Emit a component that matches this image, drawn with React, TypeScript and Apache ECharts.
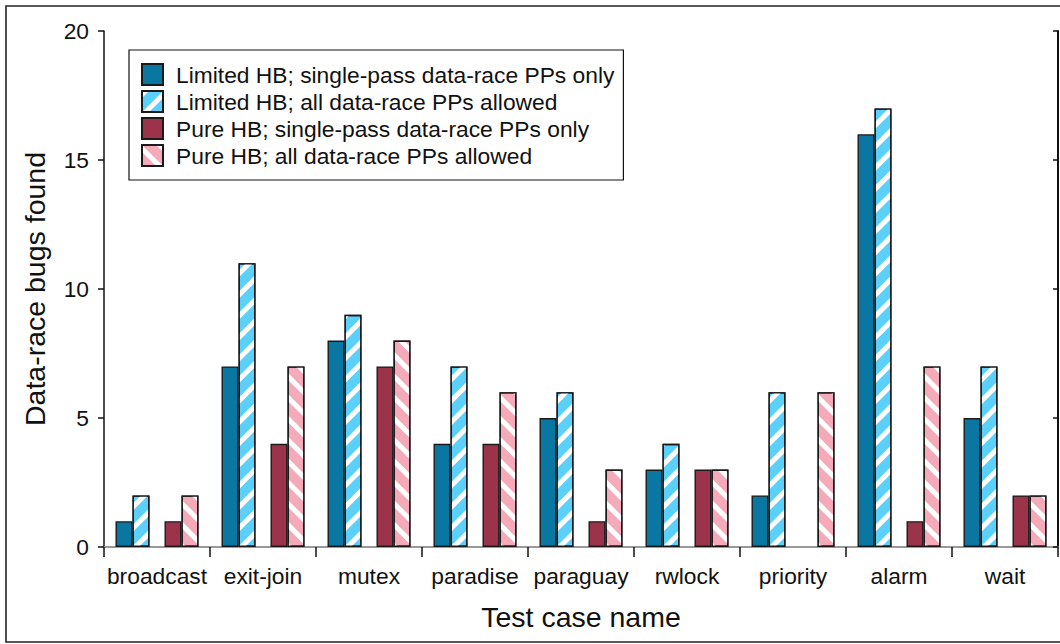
import React, { useEffect, useRef } from "react";
import * as echarts from "echarts";

const categories = ["broadcast", "exit-join", "mutex", "paradise", "paraguay", "rwlock", "priority", "alarm", "wait"];
const limitedSingle = [1, 7, 8, 4, 5, 3, 2, 16, 5];
const limitedAll = [2, 11, 9, 7, 6, 4, 6, 17, 7];
const pureSingle = [1, 4, 7, 4, 1, 3, 0, 1, 2];
const pureAll = [2, 7, 8, 6, 3, 3, 6, 7, 2];
const seriesNames = [
  "Limited HB; single-pass data-race PPs only",
  "Limited HB; all data-race PPs allowed",
  "Pure HB; single-pass data-race PPs only",
  "Pure HB; all data-race PPs allowed",
];
const yTicks = [0, 5, 10, 15, 20];

const FONT = "Liberation Sans";

export default function App() {
  const ref = useRef<HTMLDivElement>(null);
  useEffect(() => {
    if (!ref.current) return;
    const chart = echarts.init(ref.current, null, { renderer: "svg" });
    const border = { borderColor: "#1a1a1a", borderWidth: 1.4 };
    const stripe = (rot: number) => ({
      symbol: "rect",
      symbolSize: 1,
      color: "#ffffff",
      dashArrayX: [1, 0],
      dashArrayY: [5, 10],
      rotation: rot,
    });
    const option: any = {
      animation: false,
      backgroundColor: "#ffffff",
      textStyle: { fontFamily: FONT, color: "#111" },
      grid: { left: 104, top: 31, right: 2, bottom: 97, containLabel: false },
      graphic: [
        {
          type: "rect",
          shape: { x: 6, y: 6, width: 1080, height: 636 },
          style: { fill: "none", stroke: "#222", lineWidth: 1.6 },
          silent: true,
          z: 100,
        },
      ],
      legend: {
        data: seriesNames,
        orient: "vertical",
        left: 129,
        top: 50,
        padding: [13, 9, 13, 12],
        itemWidth: 21,
        itemHeight: 21,
        itemGap: 4,
        icon: "rect",
        borderColor: "#111",
        borderWidth: 1.2,
        backgroundColor: "#fff",
        textStyle: { fontFamily: FONT, fontSize: 22.8, lineHeight: 21, color: "#111", padding: [0, 0, 0, 8] },
      },
      xAxis: [
        {
          type: "category",
          data: categories,
          axisLine: { lineStyle: { color: "#111", width: 1.5 } },
          axisTick: { show: true, length: 10, lineStyle: { color: "#111", width: 1.5 } },
          axisLabel: { fontFamily: FONT, fontSize: 22.8, color: "#111", margin: 17, interval: 0 },
          name: "Test case name",
          nameLocation: "middle",
          nameGap: 55,
          nameTextStyle: { fontFamily: FONT, fontSize: 28.5, color: "#111" },
        },
        {
          type: "category",
          data: categories,
          position: "top",
          axisLine: { lineStyle: { color: "#999", width: 2 } },
          axisTick: { show: false },
          axisLabel: { show: false },
        },
      ],
      yAxis: [
        {
          type: "value",
          min: yTicks[0],
          max: yTicks[yTicks.length - 1],
          interval: 5,
          splitLine: { show: false },
          axisLine: { show: true, lineStyle: { color: "#111", width: 1.5 } },
          axisTick: { show: true, length: 6, lineStyle: { color: "#111", width: 1.5 } },
          axisLabel: { fontFamily: FONT, fontSize: 22.8, color: "#111", margin: 15 },
          name: "Data-race bugs found",
          nameLocation: "middle",
          nameGap: 55,
          nameTextStyle: { fontFamily: FONT, fontSize: 28.5, color: "#111" },
        },
        {
          type: "value",
          position: "right",
          min: yTicks[0],
          max: yTicks[yTicks.length - 1],
          interval: 5,
          splitLine: { show: false },
          axisLine: { show: true, lineStyle: { color: "#111", width: 2 } },
          axisTick: { show: true, inside: true, length: 5, lineStyle: { color: "#111", width: 1.5 } },
          axisLabel: { show: false },
        },
      ],
      series: [
        {
          name: seriesNames[0],
          type: "bar",
          data: limitedSingle,
          barWidth: 17,
          barGap: 0,
          itemStyle: { color: "#0a77a3", ...border },
        },
        {
          name: seriesNames[1],
          type: "bar",
          data: limitedAll,
          barWidth: 17,
          barGap: 0,
          itemStyle: { color: "#5bd0fa", ...border, decal: stripe(-Math.PI / 4) },
        },
        {
          name: "spacer",
          type: "bar",
          data: categories.map(() => "-"),
          barWidth: 15,
          barGap: 0,
          silent: true,
        },
        {
          name: seriesNames[2],
          type: "bar",
          data: pureSingle.map((v) => (v === 0 ? "-" : v)),
          barWidth: 17,
          barGap: 0,
          itemStyle: { color: "#9b344b", ...border },
        },
        {
          name: seriesNames[3],
          type: "bar",
          data: pureAll,
          barWidth: 17,
          barGap: 0,
          itemStyle: { color: "#f4aab9", ...border, decal: stripe(Math.PI / 4) },
        },
      ],
    };
    chart.setOption(option);
    return () => chart.dispose();
  }, []);
  return <div ref={ref} style={{ width: 1060, height: 644, position: "absolute", left: 0, top: 0 }} />;
}
